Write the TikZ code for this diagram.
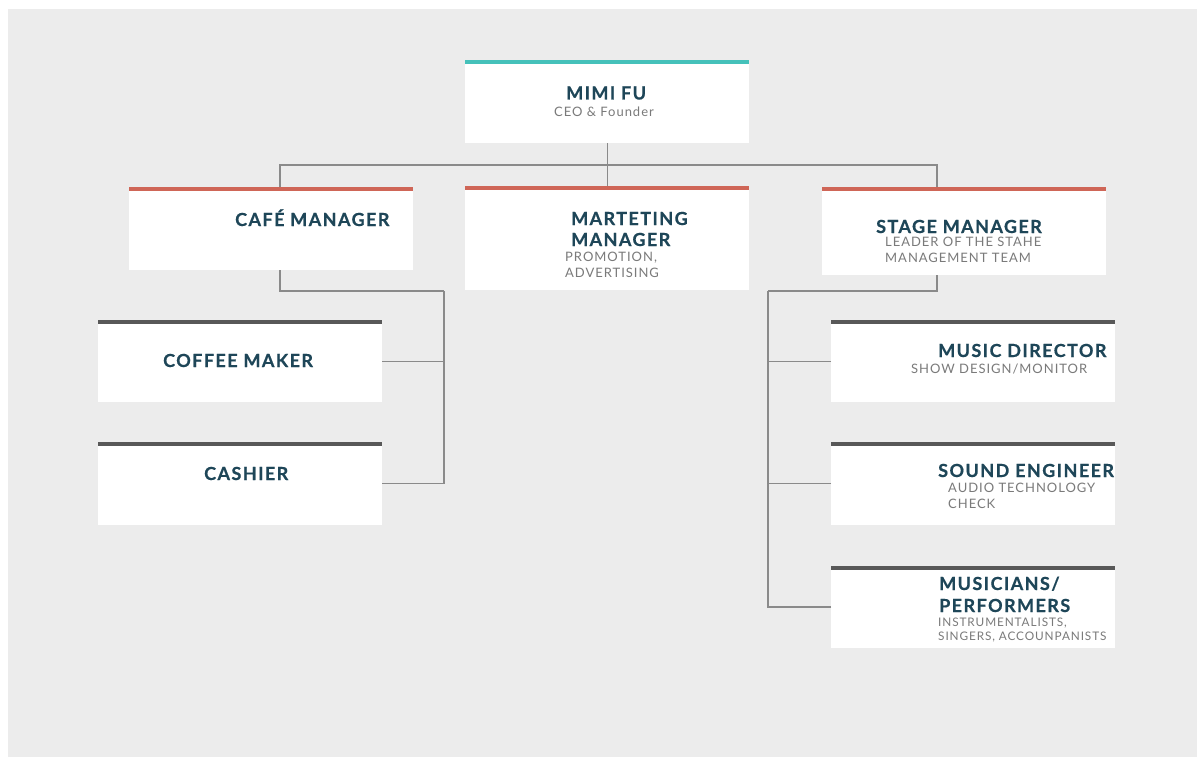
\documentclass[tikz,border=0pt]{standalone}
\usepackage{fontspec}
\setmainfont{Lato}
\newfontfamily\headfont[LetterSpace=8, BoldFeatures={FakeBold=0.6}]{Lato}
\newfontfamily\notefont[LetterSpace=7.5]{Lato}
\usetikzlibrary{positioning}
\definecolor{bgcol}{RGB}{236,236,236}
\definecolor{tealcol}{RGB}{69,193,186}
\definecolor{redcol}{RGB}{207,102,87}
\definecolor{darkcol}{RGB}{88,88,88}
\definecolor{namecol}{RGB}{30,70,88}
\definecolor{notecol}{RGB}{122,122,122}
\definecolor{linkcol}{RGB}{138,138,138}

\begin{document}
\begin{tikzpicture}[x=1pt, y=-1pt,
        card/.style={fill=white, minimum width=284pt, minimum height=83pt, inner sep=0pt, anchor=north west},
        topbar/.style={line width=4pt},
        titletext/.style={font=\headfont\bfseries\fontsize{18}{21}\selectfont, text=namecol, anchor=base west, inner sep=0pt},
        notetext/.style={font=\notefont\fontsize{13}{16}\selectfont, text=notecol, anchor=base west, inner sep=0pt},
        link/.style={draw=linkcol, line width=1.2pt}
    ]
    \useasboundingbox (0,0) rectangle (1197,757);
    \fill[bgcol] (8,9) rectangle (1197,757);

    % Cards
    \node[card] (ceo) at (465,60) {};
    \node[card] (cafe) at (129,187) {};
    \node[card, minimum height=104pt] (mkt) at (465,186) {};
    \node[card, minimum height=88pt] (stage) at (822,187) {};
    \node[card, minimum height=82pt] (coffee) at (98,320) {};
    \node[card, minimum height=82pt, below=40pt of coffee.south west, anchor=north west] (cashier) {};
    \node[card, minimum height=82pt] (music) at (831,320) {};
    \node[card, minimum height=82pt, below=40pt of music.south west, anchor=north west] (sound) {};
    \node[card, minimum height=82pt, below=41pt of sound.south west, anchor=north west] (musicians) {};

    % Top bars
    \draw[topbar, tealcol] ([yshift=-2pt]ceo.north west) -- ([yshift=-2pt]ceo.north east);
    \foreach \c in {cafe, mkt, stage}
        \draw[topbar, redcol] ([yshift=-2pt]\c.north west) -- ([yshift=-2pt]\c.north east);
    \foreach \c in {coffee, cashier, music, sound, musicians}
        \draw[topbar, darkcol] ([yshift=-2pt]\c.north west) -- ([yshift=-2pt]\c.north east);

    % Texts
    \node[titletext] (ceoName) at (566,99.5) {MIMI FU};
    \node[notetext] (ceoNote) at (554,117) {CEO \& Founder};
    \node[titletext] (cafeName) at (235,226) {CAFÉ MANAGER};
    \node[titletext] (mktName) at (571,225) {MARTETING};
    \node[titletext] (mktName2) at (571,246) {MANAGER};
    \node[notetext] (mktNote) at (565,261) {PROMOTION,};
    \node[notetext] (mktNote2) at (565,277) {ADVERTISING};
    \node[titletext] (stageName) at (876,233) {STAGE MANAGER};
    \node[notetext] (stageNote) at (885,246) {LEADER OF THE STAHE};
    \node[notetext] (stageNote2) at (885,262) {MANAGEMENT TEAM};
    \node[titletext] (coffeeName) at (163,367) {COFFEE MAKER};
    \node[titletext] (cashierName) at (204,480) {CASHIER};
    \node[titletext] (musicName) at (938,357) {MUSIC DIRECTOR};
    \node[notetext] (musicNote) at (911,373) {SHOW DESIGN/MONITOR};
    \node[titletext] (soundName) at (938,477) {SOUND ENGINEER};
    \node[notetext] (soundNote) at (948,492) {AUDIO TECHNOLOGY};
    \node[notetext] (soundNote2) at (948,508) {CHECK};
    \node[titletext] (musiciansName) at (939,590) {MUSICIANS/};
    \node[titletext] (musiciansName2) at (939,612) {PERFORMERS};
    \node[notetext, font=\notefont\fontsize{11.8}{14}\selectfont] (musiciansNote) at (938,626) {INSTRUMENTALISTS,};
    \node[notetext, font=\notefont\fontsize{11.8}{14}\selectfont] (musiciansNote2) at (938,640) {SINGERS, ACCOUNPANISTS};

    % Connectors
    \coordinate (busL) at (280,165);
    \coordinate (busR) at (937,165);
    \coordinate (cafeOut) at (280,291);
    \coordinate (cafeBus) at (444,291);
    \coordinate (stageOut) at (937,291);
    \coordinate (stageBus) at (768,291);

    \draw[link] (ceo.south) -- (ceo.south |- busL);
    \draw[link] (busL |- cafe.north) -- (busL) -- (busR) -- (busR |- stage.north);
    \draw[link] (mkt.north) -- (mkt.north |- busL);

    \draw[link] (cafeOut |- cafe.south) -- (cafeOut) -- (cafeBus);
    \draw[link] (coffee.east) -- (coffee.east -| cafeBus);
    \draw[link] (cashier.east) -| (cafeBus);

    \draw[link] (stageOut |- stage.south) -- (stageOut) -- (stageBus);
    \draw[link] (music.west) -- (music.west -| stageBus);
    \draw[link] (sound.west) -- (sound.west -| stageBus);
    \draw[link] (musicians.west) -| (stageBus);
\end{tikzpicture}
\end{document}
